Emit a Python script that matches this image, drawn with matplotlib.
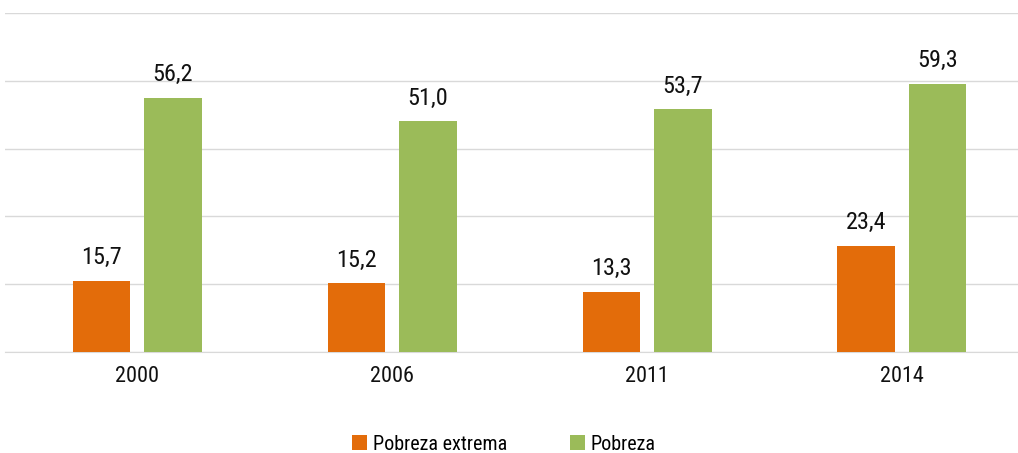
import numpy as np
import matplotlib
matplotlib.use('Agg')
import matplotlib.pyplot as plt
from matplotlib import font_manager

years = ['2000', '2006', '2011', '2014']
pobreza_extrema = [15.7, 15.2, 13.3, 23.4]
pobreza = [56.2, 51.0, 53.7, 59.3]

names = {f.name for f in font_manager.fontManager.ttflist}
family = 'Roboto Condensed' if 'Roboto Condensed' in names else 'Roboto'
plt.rcParams['font.family'] = [family, 'DejaVu Sans']

fig = plt.figure(figsize=(10.18, 4.53), dpi=100)
ax = fig.add_axes([5 / 1018, 101 / 453, 1013 / 1018, 339 / 453])

x = np.arange(len(years))
w = 0.224
off = 0.141
b1 = ax.bar(x - off, pobreza_extrema, w, color='#E36C0A', label='Pobreza extrema', zorder=3)
b2 = ax.bar(x + off, pobreza, w, color='#9BBB59', label='Pobreza', zorder=3)

# value labels above each bar, decimal comma
for bars, vals in [(b1, pobreza_extrema), (b2, pobreza)]:
    for r, v in zip(bars, vals):
        ax.annotate(f'{v:.1f}'.replace('.', ','),
                    (r.get_x() + r.get_width() / 2, r.get_height()),
                    xytext=(0, 8.5), textcoords='offset points',
                    ha='center', va='bottom', fontsize=17.5, color='#111111')

ax.set_xlim(-0.518, 3.455)
ax.set_ylim(0, 75)
ax.set_yticks(np.arange(0, 76, 15))
ax.set_yticklabels([])
ax.tick_params(axis='y', length=0)
ax.grid(axis='y', color='#d9d9d9', linewidth=1, zorder=0)
ax.set_xticks(x)
ax.set_xticklabels(years, fontsize=16, color='#111111')
ax.tick_params(axis='x', length=0, pad=10)
for s in ['top', 'right', 'left']:
    ax.spines[s].set_visible(False)
ax.spines['bottom'].set_color('#d9d9d9')

fig.legend(handles=[b1, b2], loc='center', bbox_to_anchor=(504 / 1018, 1 - 444 / 453),
           ncol=2, frameon=False, fontsize=14.5, handlelength=0.75, handleheight=0.75,
           handletextpad=0.3, columnspacing=3.1)

fig.savefig('out.png', dpi=100)
